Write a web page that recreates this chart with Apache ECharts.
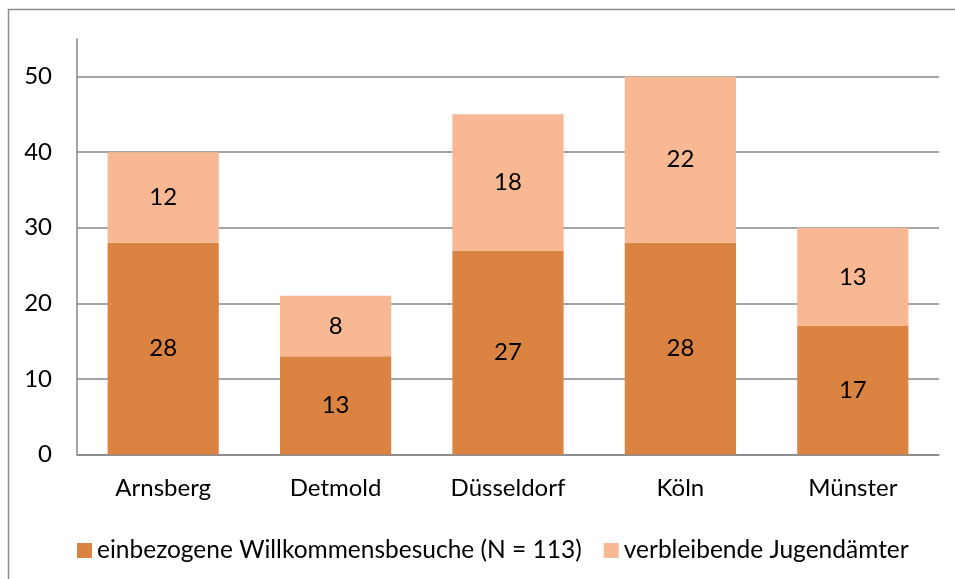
<!DOCTYPE html>
<html><head><meta charset="utf-8">
<script src="https://cdn.jsdelivr.net/npm/echarts@6/dist/echarts.min.js"></script>
<style>html,body{margin:0;padding:0;background:#fff;}#c{width:955px;height:579px;}</style>
</head><body><div id="c"></div>
<script>
const categories = ['Arnsberg', 'Detmold', 'Düsseldorf', 'Köln', 'Münster'];
const besuche = [28, 13, 27, 28, 17];
const verbleibend = [12, 8, 18, 22, 13];
const seriesNames = ['einbezogene Willkommensbesuche (N = 113)', 'verbleibende Jugendämter'];
const yTicks = [0, 10, 20, 30, 40, 50];

const FONT = 'Lato, "Open Sans", sans-serif';
const FS = 24;
const chart = echarts.init(document.getElementById('c'));
chart.setOption({
  animation: false,
  textStyle: { fontFamily: FONT },
  graphic: [{
    type: 'rect', shape: { x: 8.5, y: 9.5, width: 1000, height: 1000 },
    style: { fill: 'none', stroke: '#8c8c8c', lineWidth: 1.5 }, silent: true
  }],
  grid: { left: 77, right: 16, top: 38.75, bottom: 124.5 },
  legend: {
    left: 72, top: 533,
    itemWidth: 15, itemHeight: 15, itemGap: 22,
    icon: 'rect',
    textStyle: { fontSize: 24.5, color: '#000', fontFamily: FONT },
    data: seriesNames
  },
  xAxis: {
    type: 'category', data: categories,
    axisLine: { lineStyle: { color: '#878787', width: 1.5 } },
    axisTick: { show: false },
    axisLabel: { fontSize: FS, color: '#000', margin: 22, fontFamily: FONT }
  },
  yAxis: {
    type: 'value', min: 0, max: 55, interval: 10,
    axisLine: { show: true, lineStyle: { color: '#878787', width: 1.5 } },
    axisTick: { show: false },
    axisLabel: { fontSize: FS, color: '#000', margin: 25, showMaxLabel: false, fontFamily: FONT,
      formatter: v => yTicks.includes(v) ? String(v) : '' },
    splitLine: { lineStyle: { color: ['#878787','#878787','#878787','#878787','#878787','#878787','rgba(0,0,0,0)'], width: 1.5 } }
  },
  series: [
    { name: seriesNames[0], type: 'bar', stack: 'a', data: besuche, barWidth: '64.5%',
      itemStyle: { color: '#DB8340' },
      label: { show: true, position: 'inside', fontSize: FS, color: '#000', fontFamily: FONT } },
    { name: seriesNames[1], type: 'bar', stack: 'a', data: verbleibend, barWidth: '64.5%',
      itemStyle: { color: '#F8B894' },
      label: { show: true, position: 'inside', fontSize: FS, color: '#000', fontFamily: FONT } }
  ]
});
</script></body></html>
